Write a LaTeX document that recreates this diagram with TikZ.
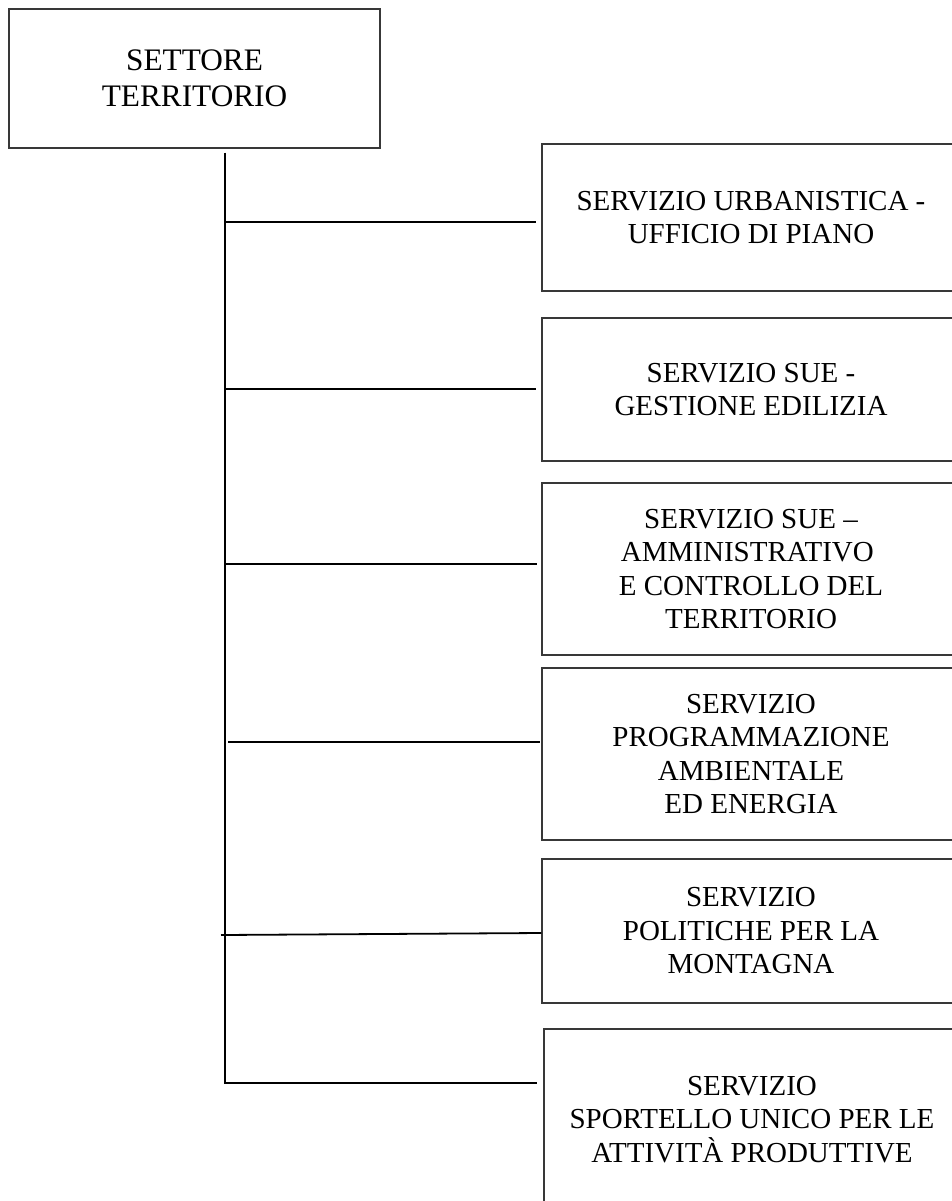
\documentclass[tikz,border=0pt]{standalone}
\usepackage{fontspec}
\setmainfont{Liberation Serif}
\usetikzlibrary{calc}
\definecolor{boxgray}{gray}{0.22}
\begin{document}
\begin{tikzpicture}[x=1pt,y=-1pt,
  boxst/.style={draw=boxgray, line width=1.3pt, rectangle, inner sep=0pt, align=center,
    text=black, font=\fontsize{29}{33.5}\selectfont},
  link/.style={line width=1.8pt, draw=black, line join=miter}]
\useasboundingbox (0,0) rectangle (952,1201);
\fill[white] (0,0) rectangle (952,1201);
\clip (0,0) rectangle (952,1201);
% top box
\node[boxst, minimum width=371pt, minimum height=139pt, font=\fontsize{31.3}{36}\selectfont]
  (top) at (194.5,78.5) {SETTORE\\TERRITORIO};
% service boxes
\node[boxst, minimum width=418pt, minimum height=147pt] (b1) at (751,217.5)
  {SERVIZIO URBANISTICA -\\UFFICIO DI PIANO};
\node[boxst, minimum width=418pt, minimum height=143pt] (b2) at (751,389.5)
  {SERVIZIO SUE -\\GESTIONE EDILIZIA};
\node[boxst, minimum width=418pt, minimum height=172pt] (b3) at (751,569)
  {SERVIZIO SUE –\\\mbox{AMMINISTRATIVO\ }\\E CONTROLLO DEL\\TERRITORIO};
\node[boxst, minimum width=418pt, minimum height=172pt] (b4) at (751,754)
  {SERVIZIO\\PROGRAMMAZIONE\\AMBIENTALE\\ED ENERGIA};
\node[boxst, minimum width=418pt, minimum height=144pt] (b5) at (751,931)
  {SERVIZIO\\POLITICHE PER LA\\MONTAGNA};
\node[boxst, minimum width=416pt, minimum height=181pt] (b6) at (752,1119.5)
  {SERVIZIO\\SPORTELLO UNICO PER LE\\ATTIVITÀ PRODUTTIVE};
% trunk and branches
\coordinate (tk0) at ($(top.south)+(30.5,4)$);
\coordinate (t1) at (225,222);
\coordinate (t2) at (225,389);
\coordinate (t3) at (225,564);
\coordinate (t4) at (228,742);
\coordinate (t5) at (221,935);
\coordinate (t6) at (225,1083);
\draw[link, shorten >=6pt] (tk0) -- (t6) -- (t6 -| b6.west);
\draw[link, shorten >=5pt] (t1) -- (t1 -| b1.west);
\draw[link, shorten >=5pt] (t2) -- (t2 -| b2.west);
\draw[link, shorten >=4pt] (t3) -- (t3 -| b3.west);
\draw[link, shorten >=1pt] (t4) -- (t4 -| b4.west);
\draw[link] (t5) -- ($(b5.west)+(0,2)$);
\end{tikzpicture}
\end{document}
